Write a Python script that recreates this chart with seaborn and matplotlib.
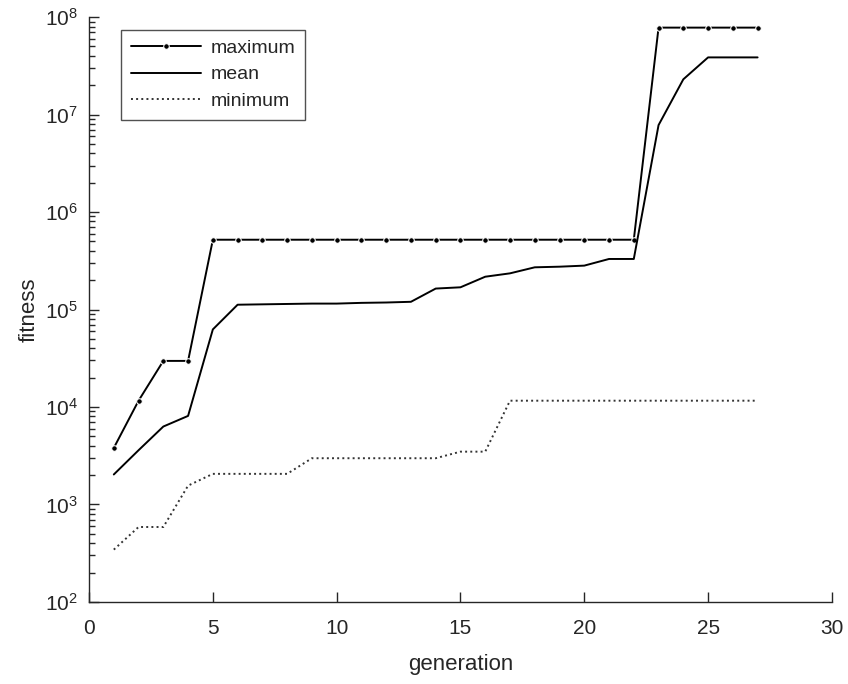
import numpy as np
import pandas as pd
import matplotlib
matplotlib.use("Agg")
import matplotlib.pyplot as plt
from matplotlib.ticker import LogLocator, NullFormatter
import seaborn as sns

# fitness per generation
generation = list(range(1, 28))
maximum = [3.8e3, 1.16e4, 2.97e4, 2.97e4] + [5.2e5] * 18 + [7.8e7] * 5
mean = [2.03e3, 3.6e3, 6.3e3, 8.1e3, 6.25e4, 1.12e5, 1.13e5, 1.14e5, 1.15e5,
        1.15e5, 1.17e5, 1.18e5, 1.2e5, 1.64e5, 1.69e5, 2.17e5, 2.35e5, 2.71e5,
        2.75e5, 2.82e5, 3.3e5, 3.3e5, 7.8e6, 2.3e7, 3.86e7, 3.86e7, 3.86e7]
minimum = [344, 587, 587, 1.56e3, 2.06e3, 2.06e3, 2.06e3, 2.06e3, 2.98e3,
           2.98e3, 2.98e3, 2.98e3, 2.98e3, 2.98e3, 3.48e3, 3.48e3] + [1.16e4] * 11

x_ticks = [0, 5, 10, 15, 20, 25, 30]
y_ticks = [1e2, 1e3, 1e4, 1e5, 1e6, 1e7, 1e8]

df = pd.DataFrame({"generation": generation, "maximum": maximum,
                   "mean": mean, "minimum": minimum})

sns.set_style("white")
plt.rcParams['font.family'] = ['Liberation Sans', 'DejaVu Sans']

fig = plt.figure(figsize=(8.48, 6.84), dpi=100)
ax = fig.add_axes([0.105, 0.12, 0.876, 0.855])

sns.lineplot(data=df, x="generation", y="maximum", ax=ax, color="black",
             marker="o", markersize=4, linewidth=1.4, label="maximum")
sns.lineplot(data=df, x="generation", y="mean", ax=ax, color="black",
             linewidth=1.4, label="mean")
sns.lineplot(data=df, x="generation", y="minimum", ax=ax, color="#333333",
             linestyle=":", linewidth=1.4, label="minimum")

ax.set_yscale("log")
ax.set_xlim(0, 30)
ax.set_ylim(1e2, 1e8)
ax.set_xticks(x_ticks)
ax.set_yticks(y_ticks)
ax.yaxis.set_minor_locator(LogLocator(base=10, subs=np.arange(2, 10), numticks=100))
ax.yaxis.set_minor_formatter(NullFormatter())
ax.set_xlabel("generation", fontsize=16, color="#262626", labelpad=12)
ax.set_ylabel("fitness", fontsize=16, color="#262626", labelpad=4)
ax.tick_params(axis="both", which="both", direction="in", labelsize=15,
               colors="#262626", left=True, bottom=True)
ax.tick_params(axis="both", which="major", length=7, width=1.0)
ax.tick_params(axis="x", which="major", pad=12)
ax.tick_params(axis="y", which="major", pad=8)
ax.tick_params(axis="y", which="minor", length=4, width=1.0)
sns.despine(ax=ax)
for s in ["left", "bottom"]:
    ax.spines[s].set_color("#262626")
    ax.spines[s].set_linewidth(1.0)

leg = ax.legend(loc="upper left", bbox_to_anchor=(0.03, 0.995), fontsize=14,
                frameon=True, fancybox=False, edgecolor="#262626",
                handlelength=3.6, handletextpad=0.5, borderpad=0.5,
                labelspacing=0.45)
leg.get_frame().set_linewidth(1.0)

fig.savefig("out.png", dpi=100)
